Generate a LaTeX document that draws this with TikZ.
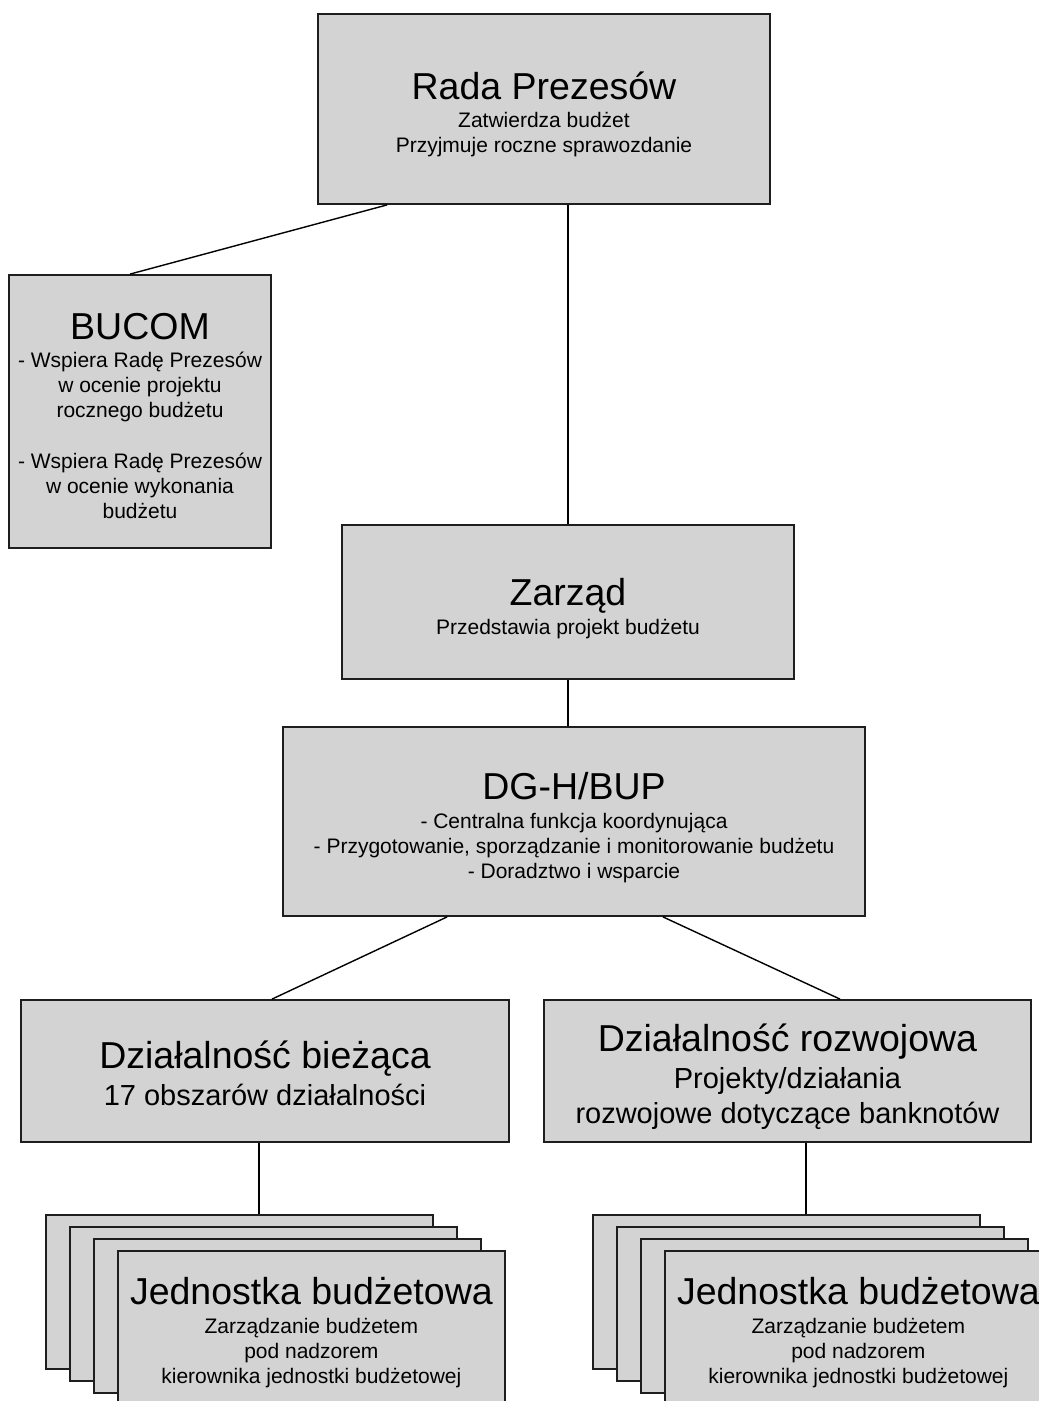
\documentclass[tikz,border=0pt]{standalone}
\usepackage{fontspec}
\setmainfont{Liberation Sans}
\definecolor{boxgray}{RGB}{211,211,211}
\definecolor{edgegray}{RGB}{30,30,30}
\newcommand\bigtitle[2][37.5pt]{{\fontsize{37.5}{40}\selectfont\rule{0pt}{#1}#2}}
\begin{document}
\begin{tikzpicture}[x=1pt,y=-1pt,
  box/.style={draw=edgegray, line width=1.8pt, fill=boxgray, align=center,
    inner sep=0pt, font=\fontsize{21}{25}\selectfont},
  midbox/.style={box, font=\fontsize{29}{35}\selectfont},
  conn/.style={draw=black, line width=1.4pt}]
\useasboundingbox (0,0) rectangle (1039,1401);
\fill[white] (0,0) rectangle (1039,1401);

% top
\node[box, minimum width=452pt, minimum height=190pt] (rada) at (544,109)
  {\bigtitle[37.5pt]{Rada Prezesów}\\[3pt] Zatwierdza budżet\\ Przyjmuje roczne sprawozdanie};
\node[box, minimum width=262pt, minimum height=273pt] (bucom) at (140,411.5)
  {\bigtitle[35.5pt]{BUCOM}\\[3pt] - Wspiera Radę Prezesów\\ w ocenie projektu\\ rocznego budżetu\\[26pt]
   - Wspiera Radę Prezesów\\ w ocenie wykonania\\ budżetu};
\node[box, minimum width=452pt, minimum height=154pt] (zarzad) at (568,602)
  {\bigtitle[39.5pt]{Zarząd}\\[4pt] Przedstawia projekt budżetu};
\node[box, minimum width=582pt, minimum height=189pt] (dg) at (574,821.5)
  {\bigtitle[39.5pt]{DG-H/BUP}\\[4pt] - Centralna funkcja koordynująca\\
   - Przygotowanie, sporządzanie i monitorowanie budżetu\\ - Doradztwo i wsparcie};
\node[midbox, minimum width=488pt, minimum height=142pt] (biez) at (265,1071)
  {\bigtitle[32.5pt]{Działalność bieżąca}\\[1.5pt] 17 obszarów działalności};
\node[midbox, minimum width=487pt, minimum height=142pt] (rozw) at (787.5,1071)
  {\bigtitle[38.5pt]{Działalność rozwojowa}\\[2pt] Projekty/działania\\ rozwojowe dotyczące banknotów};

% left stack
\node[box, minimum width=387pt, minimum height=154pt, anchor=north west] (l1) at (45,1214) {};
\node[box, minimum width=387pt, minimum height=154pt, anchor=north west] (l2) at (69,1226) {};
\node[box, minimum width=387pt, minimum height=154pt, anchor=north west] (l3) at (93,1238) {};
\node[box, minimum width=387pt, minimum height=154pt, anchor=north west] (l4) at (117,1250)
  {\bigtitle[37.5pt]{Jednostka budżetowa}\\[4pt] Zarządzanie budżetem\\ pod nadzorem\\ kierownika jednostki budżetowej};
% right stack
\node[box, minimum width=387pt, minimum height=154pt, anchor=north west] (r1) at (592,1214) {};
\node[box, minimum width=387pt, minimum height=154pt, anchor=north west] (r2) at (616,1226) {};
\node[box, minimum width=387pt, minimum height=154pt, anchor=north west] (r3) at (640,1238) {};
\node[box, minimum width=387pt, minimum height=154pt, anchor=north west] (r4) at (664,1250)
  {\bigtitle[37.5pt]{Jednostka budżetowa}\\[4pt] Zarządzanie budżetem\\ pod nadzorem\\ kierownika jednostki budżetowej};

% connectors
\draw[conn] ([xshift=70pt]rada.south west) -- ([xshift=-10pt]bucom.north);
\draw[conn] (zarzad.north) -- (zarzad.north |- rada.south);
\draw[conn] (zarzad.south) -- (zarzad.south |- dg.north);
\draw[conn] ([xshift=165pt]dg.south west) -- ([xshift=7pt]biez.north);
\draw[conn] ([xshift=89pt]dg.south) -- ([xshift=52.5pt]rozw.north);
\draw[conn] ([xshift=-6pt]biez.south) -- ([xshift=-6pt]biez.south |- l1.north);
\draw[conn] ([xshift=18.5pt]rozw.south) -- ([xshift=18.5pt]rozw.south |- r1.north);
\end{tikzpicture}
\end{document}
